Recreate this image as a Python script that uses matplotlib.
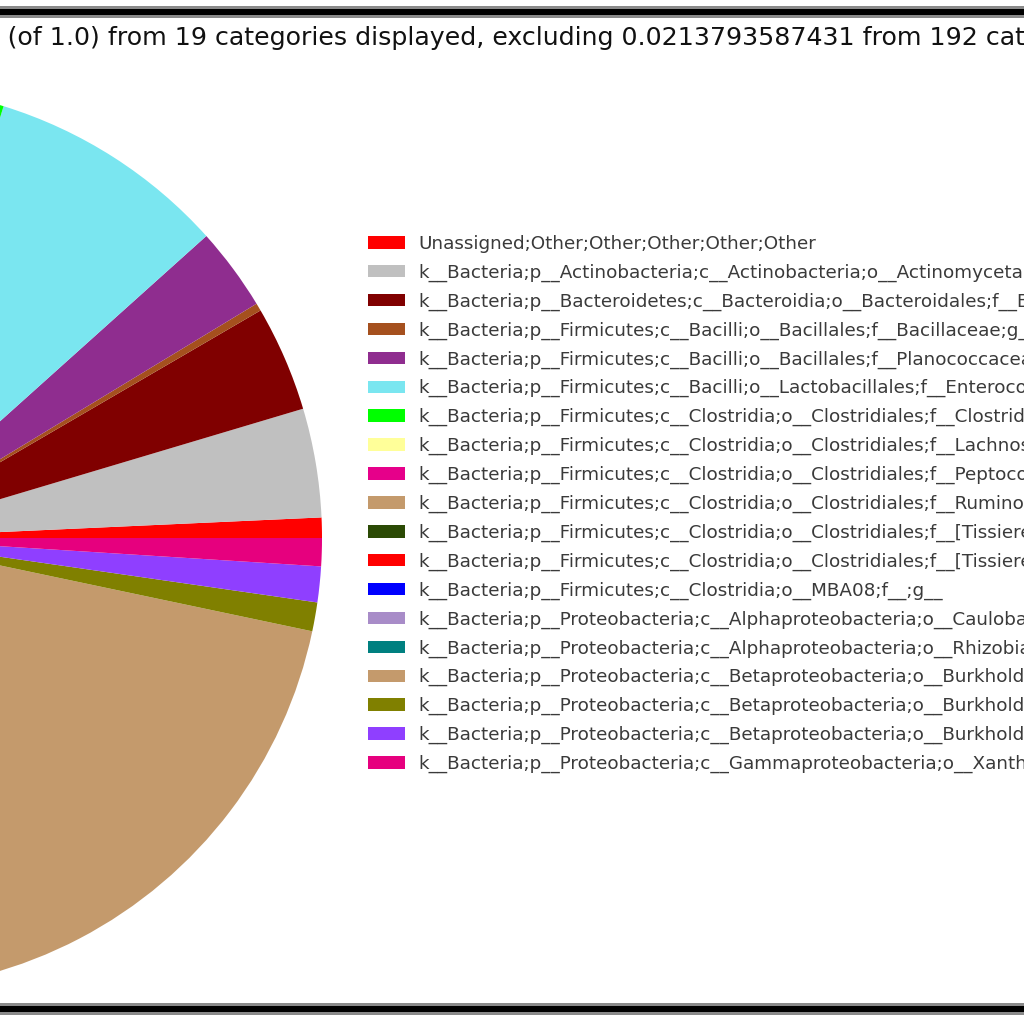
import matplotlib
matplotlib.use('Agg')
import matplotlib.pyplot as plt
import matplotlib.patches as mpatches

# taxa (19 displayed categories)
labels = [
    'Unassigned;Other;Other;Other;Other;Other',
    'k__Bacteria;p__Actinobacteria;c__Actinobacteria;o__Actinomycetales;f__Micrococcaceae;g__Arthrobacter',
    'k__Bacteria;p__Bacteroidetes;c__Bacteroidia;o__Bacteroidales;f__Bacteroidaceae;g__Bacteroides',
    'k__Bacteria;p__Firmicutes;c__Bacilli;o__Bacillales;f__Bacillaceae;g__Bacillus',
    'k__Bacteria;p__Firmicutes;c__Bacilli;o__Bacillales;f__Planococcaceae;g__Sporosarcina',
    'k__Bacteria;p__Firmicutes;c__Bacilli;o__Lactobacillales;f__Enterococcaceae;g__Enterococcus',
    'k__Bacteria;p__Firmicutes;c__Clostridia;o__Clostridiales;f__Clostridiaceae;g__Clostridium',
    'k__Bacteria;p__Firmicutes;c__Clostridia;o__Clostridiales;f__Lachnospiraceae;g__',
    'k__Bacteria;p__Firmicutes;c__Clostridia;o__Clostridiales;f__Peptococcaceae;g__',
    'k__Bacteria;p__Firmicutes;c__Clostridia;o__Clostridiales;f__Ruminococcaceae;g__',
    'k__Bacteria;p__Firmicutes;c__Clostridia;o__Clostridiales;f__[Tissierellaceae];g__Peptoniphilus',
    'k__Bacteria;p__Firmicutes;c__Clostridia;o__Clostridiales;f__[Tissierellaceae];g__Tissierella',
    'k__Bacteria;p__Firmicutes;c__Clostridia;o__MBA08;f__;g__',
    'k__Bacteria;p__Proteobacteria;c__Alphaproteobacteria;o__Caulobacterales;f__Caulobacteraceae;g__',
    'k__Bacteria;p__Proteobacteria;c__Alphaproteobacteria;o__Rhizobiales;f__Brucellaceae;g__Ochrobactrum',
    'k__Bacteria;p__Proteobacteria;c__Betaproteobacteria;o__Burkholderiales;f__Alcaligenaceae;g__Alcaligenes',
    'k__Bacteria;p__Proteobacteria;c__Betaproteobacteria;o__Burkholderiales;f__Comamonadaceae;g__',
    'k__Bacteria;p__Proteobacteria;c__Betaproteobacteria;o__Burkholderiales;f__Oxalobacteraceae;g__',
    'k__Bacteria;p__Proteobacteria;c__Gammaproteobacteria;o__Xanthomonadales;f__Xanthomonadaceae;g__Stenotrophomonas',
]

# fractions (of 1.0)
fractions = [0.0071, 0.0381, 0.0370, 0.0027, 0.0291, 0.0840, 0.1903, 0.0598, 0.0136, 0.0870,
             0.0381, 0.0245, 0.0109, 0.0245, 0.0253, 0.2746, 0.0101, 0.0125, 0.0098]

colors = ['#ff0000', '#c0c0c0', '#800000', '#a5501e', '#8f2d8f', '#7ae6f0', '#00ff00', '#ffff99',
          '#e6008a', '#c49a6c', '#2b4a05', '#ff0000', '#0000ff', '#a88cc8', '#008080', '#c49a6c',
          '#808000', '#8f3fff', '#e6007e']

title_head = 'Fractions: 0.978620641257 '
title_tail = ('(of 1.0) from 19 categories displayed, '
              'excluding 0.0213793587431 from 192 categories')

W = 1024.0
fig = plt.figure(figsize=(10.24, 10.24), dpi=100)
fig.patch.set_facecolor('white')

# pie is partly off the left edge of the picture
cx, cy, r = -130, 538, 452
ax = fig.add_axes([(cx - r) / W, (W - cy - r) / W, 2 * r / W, 2 * r / W])
ax.pie(fractions, colors=colors, startangle=0, counterclock=True,
       wedgeprops=dict(linewidth=0, antialiased=True))
ax.set_xlim(-1, 1)
ax.set_ylim(-1, 1)
ax.set_aspect('equal')
ax.axis('off')

# title, only the middle part shows
tfs = 18.2
t = fig.text(0, 1 - 38 / W, title_head + title_tail, ha='left', va='center',
             fontsize=tfs, color='#111111')
fig.canvas.draw()
rend = fig.canvas.get_renderer()
pre = fig.text(0, 0, title_head, fontsize=tfs)
shift = pre.get_window_extent(rend).width
pre.remove()
t.set_x((8 - shift) / W)

handles = [mpatches.Patch(facecolor=c, edgecolor='none') for c in colors]
fs = 13.2
fig.legend(handles, labels, loc='upper left', bbox_to_anchor=(368 / W, 1 - 235 / W),
           frameon=False, fontsize=fs, handlelength=2.0, handleheight=0.67,
           handletextpad=0.77, labelspacing=0.58, borderpad=0, borderaxespad=0,
           labelcolor='#3a3a3a')

# black frame lines top and bottom
for y0 in (6, 1003):
    fig.add_artist(mpatches.Rectangle((0, 1 - (y0 + 12) / W), 1, 12 / W,
                                      transform=fig.transFigure, color='#8a8a8a', lw=0))
    fig.add_artist(mpatches.Rectangle((0, 1 - (y0 + 9) / W), 1, 6 / W,
                                      transform=fig.transFigure, color='black', lw=0))

fig.savefig('out.png', dpi=100)
